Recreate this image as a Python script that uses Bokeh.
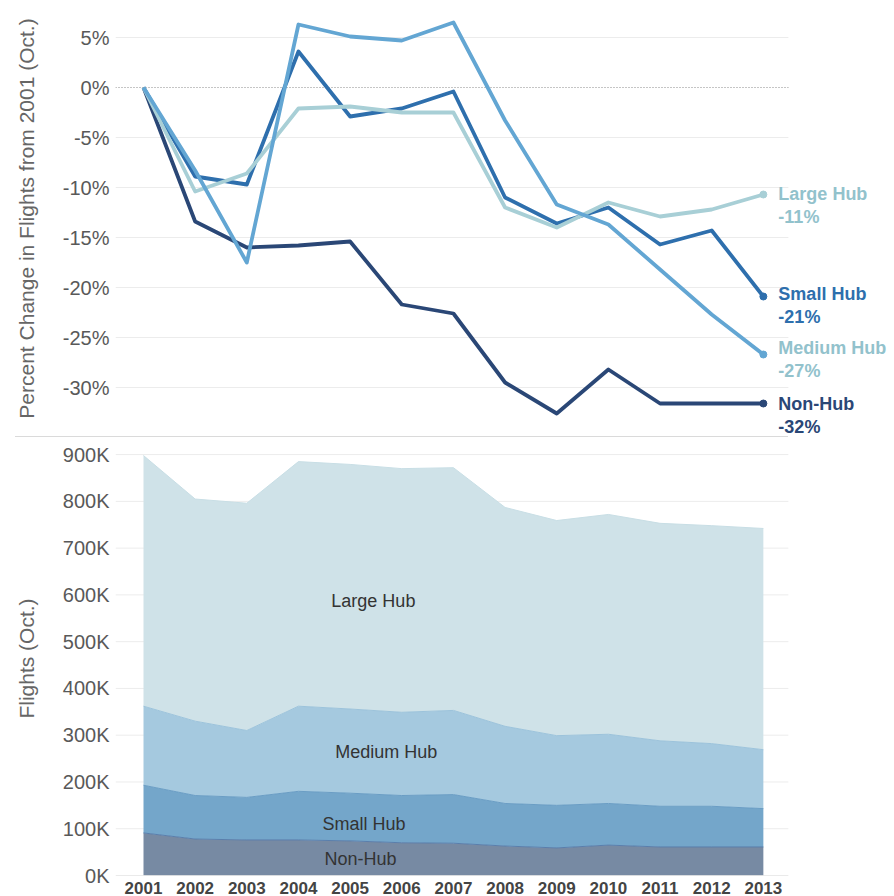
from bokeh.plotting import figure
from bokeh.models import (Range1d, FixedTicker, PrintfTickFormatter, Div,
                          ColumnDataSource)
from bokeh.layouts import column
from bokeh.embed import file_html
from bokeh.resources import INLINE
from bokeh.core.properties import value

# ---------------- data ----------------
years = [2001, 2002, 2003, 2004, 2005, 2006, 2007, 2008, 2009, 2010, 2011, 2012, 2013]
categories = ["Non-Hub", "Small Hub", "Medium Hub", "Large Hub"]

# percent change in flights from 2001 (October)
pct_non_hub = [0, -13.4, -16.0, -15.8, -15.4, -21.7, -22.6, -29.5, -32.6, -28.2, -31.6, -31.6, -31.6]
pct_small_hub = [0, -8.9, -9.7, 3.6, -2.9, -2.1, -0.4, -11.0, -13.6, -12.0, -15.7, -14.3, -20.9]
pct_medium_hub = [0, -8.3, -17.5, 6.3, 5.1, 4.7, 6.5, -3.3, -11.7, -13.7, -18.2, -22.7, -26.7]
pct_large_hub = [0, -10.4, -8.6, -2.1, -1.9, -2.5, -2.5, -12.0, -14.0, -11.5, -12.9, -12.2, -10.7]

# flights in October, thousands
flights_k_non_hub = [91, 78, 76, 76, 74, 70, 69, 63, 59, 65, 61, 61, 61]
flights_k_small_hub = [102, 93, 91, 104, 102, 101, 104, 91, 91, 89, 87, 87, 82]
flights_k_medium_hub = [169, 159, 143, 182, 180, 178, 180, 165, 149, 148, 140, 134, 126]
flights_k_large_hub = [536, 475, 486, 523, 523, 521, 519, 468, 460, 470, 465, 466, 473]

pct_ticks = [-30, -25, -20, -15, -10, -5, 0, 5]
flight_ticks_k = [0, 100, 200, 300, 400, 500, 600, 700, 800, 900]

# ---------------- styles ----------------
FONT = "Liberation Sans"
line_colors = {"Non-Hub": "#2a4776", "Small Hub": "#2e6fad",
               "Medium Hub": "#63a6d3", "Large Hub": "#a8cfd6"}
label_colors = {"Non-Hub": "#2a4776", "Small Hub": "#2e6fad",
                "Medium Hub": "#92c2cc", "Large Hub": "#92c2cc"}
area_colors = ["#778aa3", "#74a6ca", "#a5c9df", "#cfe2e8"]
area_line_colors = ["#5a7eab", "#6a9dc4", "#9cc3db", "#c8dee5"]
TICK_COLOR = "#595959"
TITLE_COLOR = "#666666"
GRID = "#ececec"

X0 = 2000.458          # left edge of plotting area
X_GRID_END = 2013.484  # right edge of the grid lines
X_END = 2015.50        # plot frame extends to hold the end labels
FIG_W = 892


def style_yaxis(p):
    ax = p.yaxis[0]
    ax.axis_line_color = None
    ax.major_tick_line_color = None
    ax.minor_tick_line_color = None
    ax.major_tick_out = 0
    ax.major_tick_in = 0
    ax.minor_tick_out = 0
    ax.major_label_text_font = FONT
    ax.major_label_text_font_size = "20px"
    ax.major_label_text_color = TICK_COLOR
    ax.major_label_standoff = 6
    ax.axis_label_text_font = FONT
    ax.axis_label_text_font_size = "21px"
    ax.axis_label_text_font_style = "normal"
    ax.axis_label_text_color = TITLE_COLOR
    ax.axis_label_standoff = 22


def grid_segments(p, ticks, color=GRID, dash="solid"):
    p.segment(x0=[X0] * len(ticks), x1=[X_GRID_END] * len(ticks),
              y0=ticks, y1=ticks, line_color=color, line_width=1,
              line_dash=dash)


# ---------------- top: percent change ----------------
top = figure(width=FIG_W, height=436, output_backend="svg", toolbar_location=None,
             x_range=Range1d(X0, X_END), y_range=Range1d(-34.9, 8.7),
             min_border_left=115, min_border_right=0, min_border_top=0,
             min_border_bottom=0)
top.outline_line_color = None
top.xaxis.visible = False
top.xgrid.grid_line_color = None
top.ygrid.grid_line_color = None
top.yaxis.ticker = FixedTicker(ticks=pct_ticks)
top.yaxis.formatter = PrintfTickFormatter(format="%d%%")
top.yaxis.axis_label = "Percent Change in Flights from 2001 (Oct.)"
style_yaxis(top)

grid_segments(top, [t for t in pct_ticks if t != 0])
grid_segments(top, [0], color="#8a8a8a", dash="1 2")

series_pct = {"Non-Hub": pct_non_hub, "Small Hub": pct_small_hub,
              "Large Hub": pct_large_hub, "Medium Hub": pct_medium_hub}
label_shift = {"Non-Hub": 0.0, "Small Hub": 0.3, "Medium Hub": 0.7, "Large Hub": 0.1}
LINE_GAP = 2.3  # in percent units (10 px per percent)
for name in ["Non-Hub", "Small Hub", "Large Hub", "Medium Hub"]:
    vals = series_pct[name]
    top.line(years, vals, line_color=line_colors[name], line_width=3.8,
             line_join="round")
    top.scatter([years[-1]], [vals[-1]], size=7, color=line_colors[name])
    last = f"{round(vals[-1])}%"
    y1 = vals[-1] + label_shift[name]
    top.text(x=[years[-1], years[-1]], y=[y1, y1 - LINE_GAP], text=[name, last],
             x_offset=15, text_font=value(FONT), text_font_size="18px",
             text_font_style="bold", text_color=label_colors[name],
             text_align="left", text_baseline="middle")

sep = Div(text="", width=773, height=1, margin=(0, 0, 0, 15),
          styles={"background-color": "#dadada"})

# ---------------- bottom: stacked flights ----------------
src = ColumnDataSource(dict(year=years, non=flights_k_non_hub,
                            small=flights_k_small_hub,
                            medium=flights_k_medium_hub,
                            large=flights_k_large_hub))
stackers = ["non", "small", "medium", "large"]

bot = figure(width=FIG_W, height=459, output_backend="svg", toolbar_location=None,
             x_range=Range1d(X0, X_END), y_range=Range1d(0, 928),
             min_border_left=115, min_border_right=0, min_border_top=4,
             min_border_bottom=0)
bot.outline_line_color = None
bot.xgrid.grid_line_color = None
bot.ygrid.grid_line_color = None
bot.yaxis.ticker = FixedTicker(ticks=flight_ticks_k)
bot.yaxis.formatter = PrintfTickFormatter(format="%dK")
bot.yaxis.axis_label = "Flights (Oct.)"
style_yaxis(bot)

grid_segments(bot, [t for t in flight_ticks_k if t != 0])

bot.varea_stack(stackers, x="year", color=area_colors, source=src)
bot.vline_stack(stackers, x="year", color=area_line_colors, line_width=1, source=src)

# baseline of the area chart
grid_segments(bot, [0], color="#d6d6d6")

xa = bot.xaxis[0]
xa.ticker = FixedTicker(ticks=years)
xa.axis_line_color = None
xa.major_tick_line_color = None
xa.minor_tick_line_color = None
xa.major_tick_out = 0
xa.major_tick_in = 0
xa.minor_tick_out = 0
xa.major_label_standoff = 6
xa.major_label_text_font = FONT
xa.major_label_text_font_size = "17px"
xa.major_label_text_font_style = "bold"
xa.major_label_text_color = "#444444"

# area labels (positions in data coordinates)
bot.text(x=[2005.2, 2005.27, 2005.7, 2005.45], y=[35, 111, 265, 586],
         text=categories, text_font=value(FONT), text_font_size="18px",
         text_color="#333333", text_align="center", text_baseline="middle")

layout = column(top, sep, bot)
open("out.html", "w").write(file_html(layout, INLINE))
